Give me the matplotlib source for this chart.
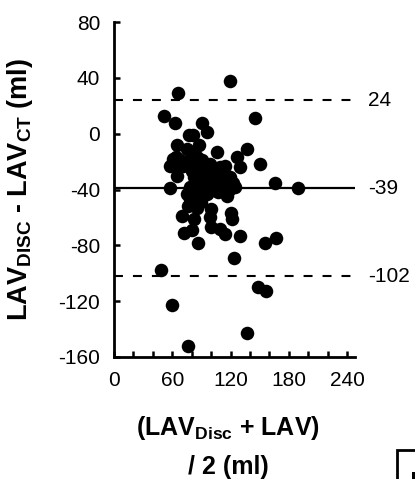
import matplotlib
matplotlib.use("Agg")
import matplotlib.pyplot as plt
from matplotlib.patches import Rectangle
from matplotlib.ticker import MultipleLocator
import matplotlib.transforms as mtransforms

plt.rcParams['font.family'] = ['Liberation Sans', 'DejaVu Sans']
plt.rcParams['mathtext.fontset'] = 'custom'
plt.rcParams['mathtext.rm'] = 'Liberation Sans'
plt.rcParams['mathtext.bf'] = 'Liberation Sans:bold'
plt.rcParams['axes.unicode_minus'] = False

# mean of the two methods (ml)
mean_vals = [119, 66, 52, 63, 145, 91, 96, 77, 81, 65, 88, 137, 106, 75, 80, 127, 61, 68,
             150, 58, 71, 130, 114, 65, 166, 189, 58, 75, 78, 70, 76, 85, 90, 82, 100, 99,
             100, 72, 80, 109, 114, 121, 122, 130, 86, 124, 155, 167, 48, 148, 157, 60,
             137, 76,
             85, 91, 78, 99, 109, 88, 82, 95, 106, 119, 88, 99, 109, 123, 125, 78, 102,
             113, 116, 107, 89, 67, 64, 84, 92, 96, 83, 104, 112, 118, 86, 93, 100, 80, 115]
# difference LAV_Disc - LAV_CT (ml)
diff_vals = [38, 29, 13, 8, 11, 8, 1, -1, -1, -8, -8, -11, -13, -11, -14, -17, -18, -19,
             -22, -23, -23, -24, -23, -30, -35, -39, -39, -43, -47, -59, -52, -53, -49, -61, -54, -60,
             -67, -71, -69, -68, -72, -57, -61, -73, -78, -89, -78, -75, -98, -110, -113, -123,
             -143, -152,
             -17, -19, -19, -22, -24, -26, -31, -29, -32, -31, -36, -38, -37, -35, -38, -38, -40,
             -42, -45, -42, -47, -24, -17, -24, -33, -43, -40, -27, -30, -40, -30, -39, -32, -27, -34]

bias = -39
loa_upper = 24
loa_lower = -102

fig = plt.figure(figsize=(4.15, 4.79), dpi=100)
ax = fig.add_axes([114/415, 1 - 357/479, 240.8/415, 335/479])

ax.scatter(mean_vals, diff_vals, s=95, color='black', zorder=3, linewidths=0)
ax.axhline(bias, color='black', lw=1.6)
ax.axhline(loa_upper, color='black', lw=1.5, dashes=(4.3, 4.8))
ax.axhline(loa_lower, color='black', lw=1.5, dashes=(4.3, 4.8))

ax.set_xlim(0, 248)
ax.set_ylim(-160, 80)
ax.xaxis.set_minor_locator(MultipleLocator(20))
ax.yaxis.set_major_locator(MultipleLocator(40))
ax.set_xticks([0, 60, 120, 180, 240])

for s in ['top', 'right']:
    ax.spines[s].set_visible(False)
for s in ['left', 'bottom']:
    ax.spines[s].set_linewidth(2)

ax.tick_params(axis='both', which='both', direction='in', length=4, width=1.8, labelsize=15)
ax.tick_params(axis='y', pad=10)
ax.tick_params(axis='x', pad=10)

trans = mtransforms.blended_transform_factory(ax.transAxes, ax.transData)
for v in [loa_upper, bias, loa_lower]:
    ax.text(1.055, v, str(v), transform=trans, ha='left', va='center', fontsize=15)

ax.set_ylabel(r'LAV$_{\bf DISC}$ - LAV$_{\bf CT}$ (ml)', fontsize=19.5, fontweight='bold')
ax.yaxis.set_label_coords(-0.33, 0.5)

fig.text(228/415, 1 - 428/479, r'(LAV$_{\bf Disc}$ + LAV)', ha='center', va='center',
         fontsize=18, fontweight='bold')
fig.text(228/415, 1 - 467/479, '/ 2 (ml)', ha='center', va='center',
         fontsize=18, fontweight='bold')

# corner of the neighbouring panel
fig.patches.append(Rectangle((397/415, -0.05), 0.2, 1 - 450/479 + 0.05, transform=fig.transFigure,
                             fill=False, edgecolor='black', lw=2))
fig.patches.append(Rectangle((412/415, -0.05), 0.2, 1 - 472/479 + 0.05, transform=fig.transFigure,
                             facecolor='black', edgecolor='none'))

fig.savefig('out.png', dpi=100)
